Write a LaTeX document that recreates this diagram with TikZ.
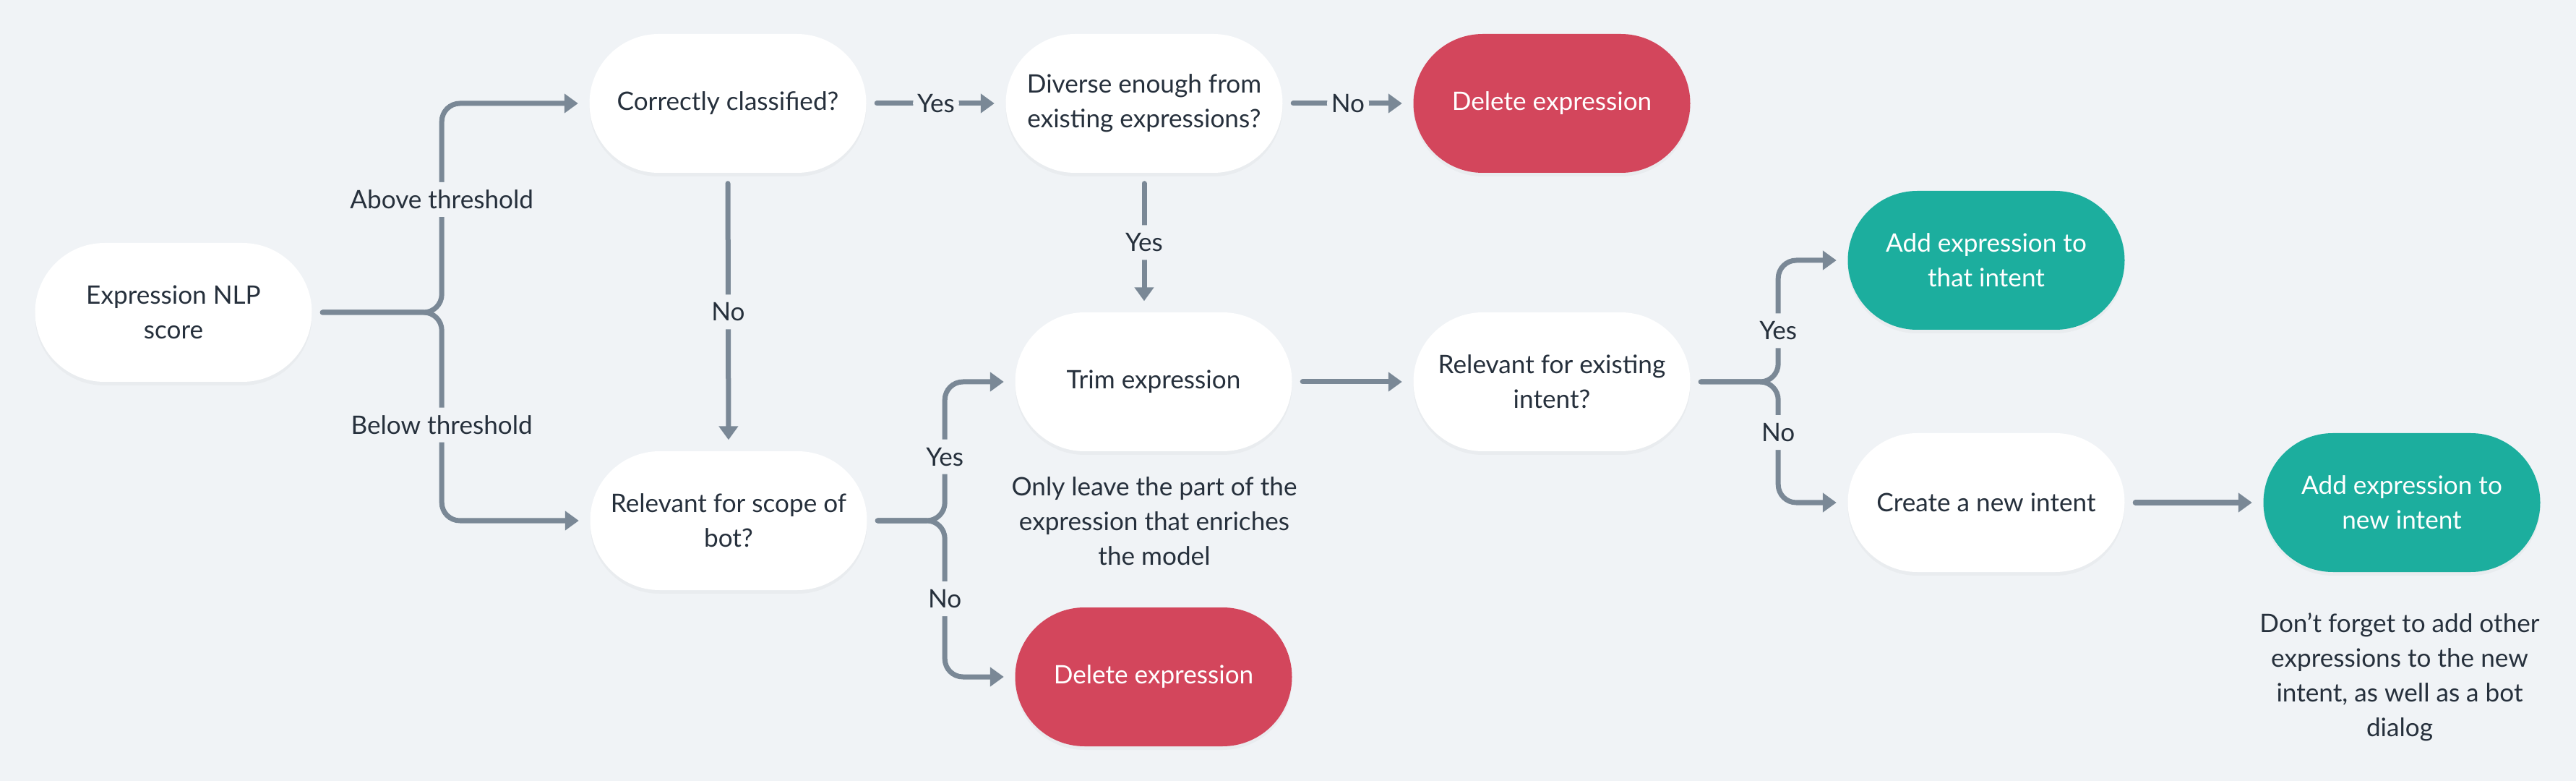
\documentclass[tikz,border=0pt]{standalone}
\usepackage{fontspec}
\setmainfont{Lato}
\usepackage{tikz}
\usetikzlibrary{arrows.meta, positioning, shadows}
\definecolor{PageBg}{HTML}{F0F3F6}
\definecolor{LineGrey}{HTML}{7A8896}
\definecolor{InkDark}{HTML}{26303C}
\definecolor{DelRed}{HTML}{D3465C}
\definecolor{AddTeal}{HTML}{1CAE9E}
\tikzstyle{box} = [rectangle, rounded corners=0.96cm, minimum width=3.83cm,
minimum height=1.92cm, align=center, font=\fontsize{10}{13.7}\selectfont,
drop shadow={opacity=0.06, shadow xshift=0cm, shadow yshift=-0.05cm}]
\tikzstyle{question} = [box, fill=white, text=InkDark]
\tikzstyle{remove} = [box, fill=DelRed, text=white]
\tikzstyle{keep} = [box, fill=AddTeal, text=white]
\tikzstyle{choice} = [fill=PageBg, text=InkDark, inner xsep=0.06cm, inner
ysep=0pt, minimum height=0.48cm, font=\fontsize{10}{13.7}\selectfont]
\tikzstyle{note} = [text=InkDark, align=center, font=\fontsize{10}{13.7}\selectfont]
\tikzstyle{flow} = [-{Triangle[length=0.19cm,width=0.26cm]}, line width=0.07cm,
LineGrey, line cap=round, rounded corners=0.25cm, shorten <=0.14cm, shorten >=0.15cm]

\begin{document}
\begin{tikzpicture}
   \fill[PageBg] (0,0) rectangle (35.64,-10.8);
   \useasboundingbox (0,0) rectangle (35.64,-10.8);
   % nodes
   \node[question] (score) at (2.40,-4.32) {Expression NLP \\ score};
   \node[question] (classified) at (10.07,-1.43) {Correctly classified?};
   \node[question] (diverse) at (15.83,-1.43) {Diverse enough from \\ existing expressions?};
   \node[remove] (deltop) at (21.47,-1.43) {Delete expression};
   \node[question] (trim) at (15.96,-5.28) {Trim expression};
   \node[question] (existing) at (21.47,-5.28) {Relevant for existing \\ intent?};
   \node[question] (scope) at (10.08,-7.20) {Relevant for scope of \\ bot?};
   \node[remove] (delbot) at (15.96,-9.36) {Delete expression};
   \node[keep] (addthat) at (27.48,-3.60) {Add expression to \\ that intent};
   \node[question] (newintent) at (27.48,-6.95) {Create a new intent};
   \node[keep] (addnew) at (33.23,-6.95) {Add expression to \\ new intent};
   \node[note] (trimnote) at (15.97,-7.21) {Only leave the part of the \\
    expression that enriches \\ the model};
   \node[note] (newnote) at (33.20,-9.36) {Don{\char"27}t forget to add other \\
    expressions to the new \\ intent, as well as a bot \\ dialog};
   % connectors
   \draw[flow] (score.east) -- ++(1.79,0) |- node[choice,pos=0.27] {Above threshold} (classified.west);
   \draw[flow] (score.east) -- ++(1.79,0) |- node[choice,pos=0.27] {Below threshold} (scope.west);
   \draw[flow] (classified.east) -- node[choice] {Yes} (diverse.west);
   \draw[flow] (diverse.east) -- node[choice] {No} (deltop.west);
   \draw[flow] (classified.south) -- node[choice] {No} (scope.north);
   \draw[flow] (diverse.south) -- node[choice] {Yes} (diverse.south |- trim.north);
   \draw[flow] (scope.east) -- ++(1.07,0) |- node[choice,pos=0.23] {Yes} (trim.west);
   \draw[flow] (scope.east) -- ++(1.07,0) |- node[choice,pos=0.25] {No} (delbot.west);
   \draw[flow] (trim.east) -- (existing.west);
   \draw[flow] (existing.east) -- ++(1.21,0) |- node[choice,pos=0.21] {Yes} (addthat.west);
   \draw[flow] (existing.east) -- ++(1.21,0) |- node[choice,pos=0.21] {No} (newintent.west);
   \draw[flow] (newintent.east) -- (addnew.west);
\end{tikzpicture}
\end{document}
